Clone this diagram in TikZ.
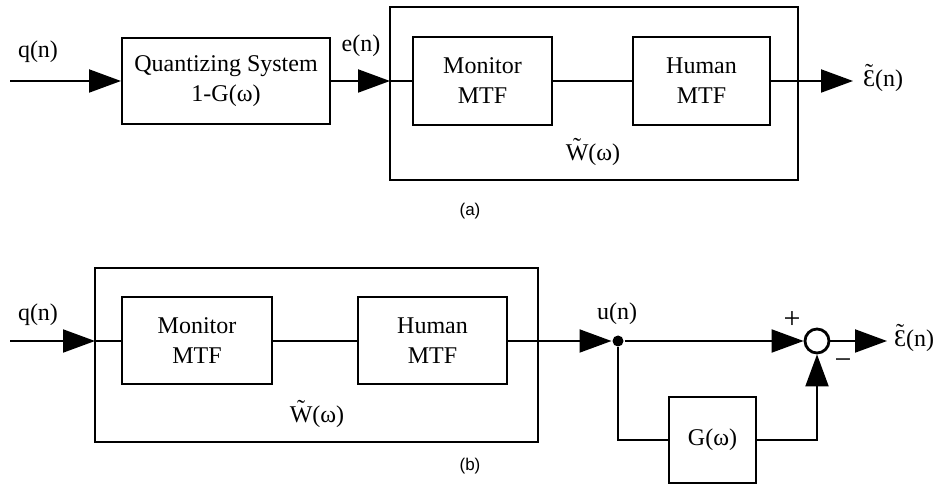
\documentclass[tikz,border=0pt]{standalone}
\usepackage{fontspec}
\setmainfont{Liberation Serif}
\newfontfamily\capfont{Liberation Sans}
\usetikzlibrary{arrows.meta}
\newcommand\tildetop[1]{\ooalign{#1\cr\hidewidth\raisebox{0.55ex}{˜}\hidewidth\cr}}
\begin{document}
\begin{tikzpicture}[x=0.5pt,y=-0.5pt,line width=1pt,
    blok/.style={draw,rectangle,align=center,inner sep=0pt,minimum height=43pt},
    lbl/.style={inner sep=0pt},
    sign/.style={inner sep=0pt,font=\fontsize{15}{15}\selectfont},
    sig/.style={-{Triangle[length=16pt,width=11.5pt]}},
    font=\fontsize{12}{15}\selectfont]
    \useasboundingbox (0,0) rectangle (941,485);
    % (a)
    \node[blok,minimum width=104pt] (quant) at (226,81) {Quantizing System\\1-G(ω)};
    \node[blok,minimum width=69.5pt,minimum height=44pt] (mona) at (482.5,81) {Monitor\\MTF};
    \node[blok,minimum width=68.5pt,minimum height=44pt] (huma) at (701.5,81) {Human\\MTF};
    \draw (390,7) rectangle (798,180);
    \coordinate (wawest) at (390,81);
    \coordinate (qa) at (10,81);
    \coordinate (outa) at (853,81);
    \draw[sig] (qa) -- (quant);
    \draw[sig] (quant) -- (wawest);
    \draw (wawest) -- (mona);
    \draw (mona) -- (huma);
    \draw[sig] (huma) -- (outa);
    \node[lbl] (qalbl) at (38,52) {q(n)};
    \node[lbl] (elbl) at (361,46) {e(n)};
    \node[lbl,anchor=west] (epsa) at (862,81) {\tildetop{Ɛ}(n)};
    \node[lbl] (wlbla) at (593,155) {\tildetop{W}(ω)};
    \node[lbl,font=\capfont\fontsize{8.5}{10}\selectfont] (capa) at (470,211) {(a)};
    % (b)
    \node[blok,minimum width=75pt,minimum height=43.5pt] (monb) at (197,341) {Monitor\\MTF};
    \node[blok,minimum width=74.5pt,minimum height=43.5pt] (humb) at (432.5,341) {Human\\MTF};
    \draw (95,268) rectangle (538,442);
    \coordinate (wbwest) at (95,341);
    \node[circle,fill,inner sep=0pt,minimum size=5.5pt] (u) at (618,341) {};
    \node[circle,draw,line width=1.4pt,inner sep=0pt,minimum size=12pt] (sum) at (817,341) {};
    \node[blok,minimum width=43.5pt] (gbox) at (712.5,440) {G(ω)};
    \coordinate (qb) at (10,341);
    \coordinate (outb) at (887,341);
    \draw[sig] (qb) -- (wbwest);
    \draw (wbwest) -- (monb);
    \draw (monb) -- (humb);
    \draw[sig] (humb) -- (u);
    \draw[sig] (u) -- (sum);
    \draw[sig] (sum) -- (outb);
    \draw (u) |- (gbox);
    \draw[sig] (gbox) -| (sum);
    \node[lbl] (qblbl) at (38,315) {q(n)};
    \node[lbl] (ulbl) at (617,314) {u(n)};
    \node[sign] (plus) at (792,320) {+};
    \node[sign] (minus) at (843,364) {−};
    \node[lbl,anchor=west] (epsb) at (893,341) {\tildetop{Ɛ}(n)};
    \node[lbl] (wlblb) at (317,417) {\tildetop{W}(ω)};
    \node[lbl,font=\capfont\fontsize{8.5}{10}\selectfont] (capb) at (470,466) {(b)};
\end{tikzpicture}
\end{document}
